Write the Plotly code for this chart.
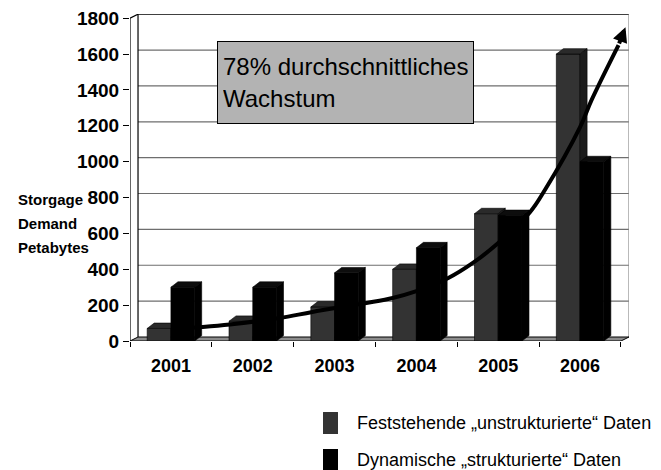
import plotly.graph_objects as go

# ---------------- data ----------------
years = ["2001", "2002", "2003", "2004", "2005", "2006"]
unstructured = [70, 110, 190, 400, 710, 1600]   # Feststehende "unstrukturierte" Daten
structured = [300, 300, 380, 520, 700, 1000]    # Dynamische "strukturierte" Daten
series_names = ["Feststehende „unstrukturierte“ Daten",
                "Dynamische „strukturierte“ Daten"]
y_ticks = [0, 200, 400, 600, 800, 1000, 1200, 1400, 1600, 1800]
axis_title = ["Storgage", "Demand", "Petabytes"]
growth_text = "78% durchschnittliches<br>Wachstum"
# hand-drawn growth arrow (x in category units, 2001 = 0)
trend_x = [0.2, 0.39, 0.72, 1.33, 1.73, 2.71, 3.01, 3.39, 3.69, 4.0, 4.39, 4.57, 5.0, 5.14, 5.47]
trend_y = [72, 78, 92, 128, 162, 240, 279, 351, 435, 546, 719, 842, 1193, 1343, 1650]
arrow_tip = (5.555, 1750)

# ---------------- styling / geometry ----------------
FONT = "Liberation Sans, Arial, sans-serif"
front_cols = ["#333333", "#000000"]
top_cols = ["#2a2a2a", "#0d0d0d"]
side_cols = ["#1b1b1b", "#000000"]
bar_w = 0.29
offsets = [-0.29, 0.0]
dx, dy = 0.086, 30        # bar depth (category units, value units)
wx, wy = 0.098, 22.3      # back-wall offset
n = len(years)
x_lo, x_hi = -0.5, n - 0.5

fig = go.Figure()

# bar faces (front, top, side), drawn in depth order
for s, vals in enumerate([unstructured, structured]):
    fx, fy, tx, ty, sx, sy = [], [], [], [], [], []
    for i, v in enumerate(vals):
        x0 = i + offsets[s]
        x1 = x0 + bar_w
        fx += [x0, x1, x1, x0, x0, None]
        fy += [0, 0, v, v, 0, None]
        tx += [x0, x1, x1 + dx, x0 + dx, x0, None]
        ty += [v, v, v + dy, v + dy, v, None]
        sx += [x1, x1 + dx, x1 + dx, x1, x1, None]
        sy += [0, dy, v + dy, v, 0, None]
    for xs, ys, col in [(fx, fy, front_cols[s]), (tx, ty, top_cols[s]), (sx, sy, side_cols[s])]:
        fig.add_trace(go.Scatter(x=xs, y=ys, mode="lines", fill="toself",
                                 fillcolor=col, line=dict(color="#000000", width=0.6),
                                 name=series_names[s], showlegend=False, hoverinfo="skip"))

# growth curve
fig.add_trace(go.Scatter(x=trend_x, y=trend_y, mode="lines",
                         line=dict(color="black", width=4, shape="spline", smoothing=1.0),
                         showlegend=False, hoverinfo="skip"))

shapes = []
# back wall gridlines
for v in y_ticks[1:-1]:
    shapes.append(dict(type="line", layer="below", xref="x", yref="y",
                       x0=x_lo + wx, x1=x_hi + wx, y0=v + wy, y1=v + wy,
                       line=dict(color="#6e6e6e", width=1.2)))
top = y_ticks[-1]
shapes += [
    dict(type="line", layer="below", xref="x", yref="y", x0=x_lo + wx, x1=x_hi + wx,
         y0=top + wy, y1=top + wy, line=dict(color="black", width=1.2)),
    dict(type="line", layer="below", xref="x", yref="y", x0=x_lo + wx, x1=x_lo + wx,
         y0=wy, y1=top + wy, line=dict(color="black", width=1.2)),
    dict(type="line", layer="below", xref="x", yref="y", x0=x_hi + wx, x1=x_hi + wx,
         y0=wy, y1=top + wy, line=dict(color="#8a8a8a", width=1.2)),
    dict(type="line", layer="below", xref="x", yref="y", x0=x_lo, x1=x_lo + wx,
         y0=top, y1=top + wy, line=dict(color="black", width=1.2)),
    dict(type="line", layer="below", xref="x", yref="y", x0=x_lo, x1=x_lo,
         y0=0, y1=top, line=dict(color="black", width=1.2)),
    dict(type="path", layer="below", xref="x", yref="y",
         path=f"M {x_lo},0 L {x_hi},0 L {x_hi + wx},{wy} L {x_lo + wx},{wy} Z",
         fillcolor="#8c8c8c", line=dict(color="black", width=1)),
]

# legend (manual)
leg_y = [-0.2508, -0.3639]
for s in range(2):
    shapes.append(dict(type="rect", xref="paper", yref="paper",
                       x0=0.3868, x1=0.4168, y0=leg_y[s] - 0.0336, y1=leg_y[s] + 0.0336,
                       fillcolor=front_cols[s], line=dict(width=0)))

annotations = [
    dict(xref="paper", yref="paper", x=0.1743, y=0.9174, xanchor="left", yanchor="top",
         text=growth_text, showarrow=False, align="left", valign="middle",
         width=245, height=71, borderpad=5, bgcolor="#b3b3b3",
         bordercolor="black", borderwidth=1,
         font=dict(family=FONT, size=24, color="black")),
    dict(xref="x", yref="y", axref="x", ayref="y", x=arrow_tip[0], y=arrow_tip[1],
         ax=trend_x[-1], ay=trend_y[-1], showarrow=True, arrowhead=2, arrowsize=0.75,
         arrowwidth=4, arrowcolor="black", standoff=0, text=""),
]
title_y = [200, 223, 247]
for t, py in zip(axis_title, title_y):
    annotations.append(dict(xref="paper", yref="paper", x=(16 - 130) / 499,
                            y=(341 - py) / 327, xanchor="left", yanchor="middle",
                            text=t, showarrow=False,
                            font=dict(family=FONT, size=15, color="black", weight="bold")))
for s in range(2):
    annotations.append(dict(xref="paper", yref="paper", x=0.4509, y=leg_y[s],
                            xanchor="left", yanchor="middle", text=series_names[s],
                            showarrow=False,
                            font=dict(family=FONT, size=18, color="black")))

fig.update_layout(
    width=661, height=470,
    margin=dict(l=130, r=32, t=14, b=129),
    paper_bgcolor="white", plot_bgcolor="white",
    showlegend=False,
    shapes=shapes, annotations=annotations,
    xaxis=dict(range=[x_lo, x_hi + wx], tickmode="array", tickvals=list(range(n)),
               ticktext=years, ticks="outside", ticklen=8, tickcolor="rgba(0,0,0,0)",
               showgrid=False, zeroline=False, showline=False, fixedrange=True,
               tickfont=dict(family=FONT, size=18, color="black", weight="bold"),
               minor=dict(tickvals=[x_lo + k for k in range(n + 1)], ticks="outside",
                          ticklen=5, tickcolor="black", showgrid=False)),
    yaxis=dict(range=[0, top + wy + 1], tickmode="array", tickvals=y_ticks,
               ticks="outside", ticklen=6, tickcolor="black", automargin=False,
               showgrid=False, zeroline=False, showline=False, fixedrange=True,
               tickfont=dict(family=FONT, size=19, color="black", weight="bold")),
)

# remove the browser's default 8px body margin so the figure sits at the window origin
fig.write_html("out.html", config={"displayModeBar": False},
               post_script="document.body.style.margin='0';")
